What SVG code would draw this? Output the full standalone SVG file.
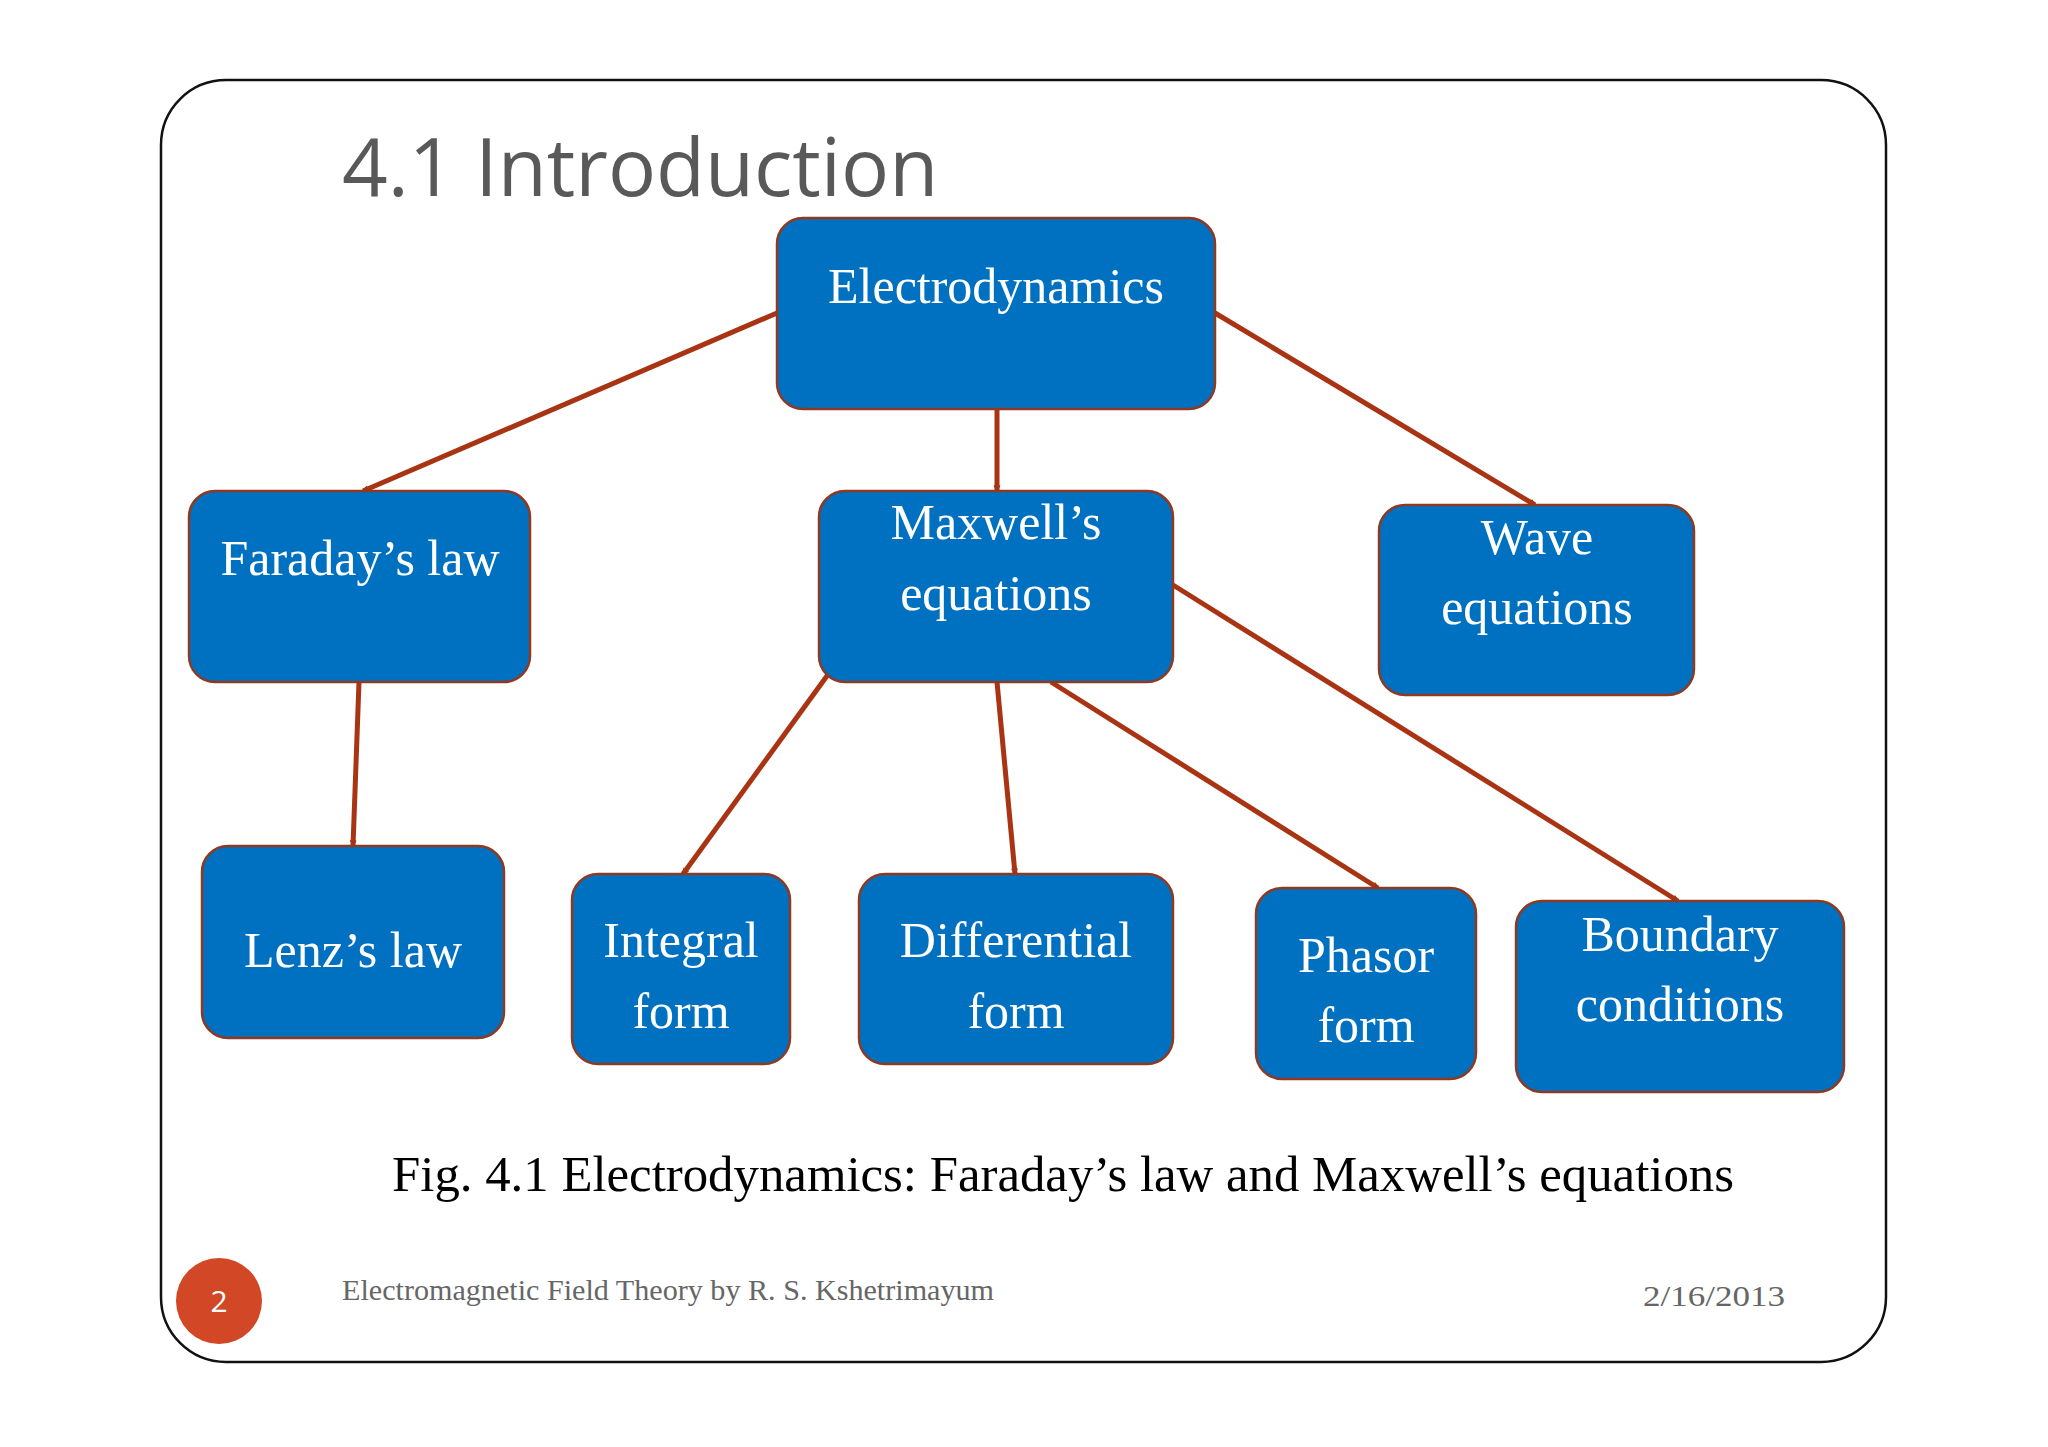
<svg xmlns="http://www.w3.org/2000/svg" width="2048" height="1447" viewBox="0 0 2048 1447">
<defs>
<style>
.n{fill:#0070C0;stroke:#8E3A22;stroke-width:2.5}
.t{fill:#fff;font-family:"Liberation Serif",serif;font-size:50px;text-anchor:middle}
.c{stroke:#A93413;stroke-width:5;fill:none}
</style>
<marker id="a" viewBox="0 0 20 20" refX="18" refY="10" markerWidth="7" markerHeight="7" markerUnits="userSpaceOnUse" orient="auto" style="overflow:visible">
<path d="M2,2 L18,10 L2,18" fill="none" stroke="#A93413" stroke-width="4" stroke-linejoin="miter"/>
</marker>
</defs>
<rect width="2048" height="1447" fill="#fff"/>
<rect x="161" y="80" width="1725" height="1282" rx="65" fill="#fff" stroke="#111" stroke-width="2.5"/>
<text x="342" y="196" font-family="'Open Sans',sans-serif" font-size="80" fill="#595959">4.1 Introduction</text>
<g id="connectors">
<line class="c" x1="777" y1="313" x2="363" y2="491" marker-end="url(#a)"/>
<line class="c" x1="997" y1="409" x2="997" y2="491" marker-end="url(#a)"/>
<line class="c" x1="1215" y1="313" x2="1535" y2="505" marker-end="url(#a)"/>
<line class="c" x1="359" y1="682" x2="353" y2="846" marker-end="url(#a)"/>
<line class="c" x1="832" y1="669" x2="683" y2="874" marker-end="url(#a)"/>
<line class="c" x1="997" y1="682" x2="1015" y2="874" marker-end="url(#a)"/>
<line class="c" x1="1051" y1="682" x2="1378" y2="888" marker-end="url(#a)"/>
<line class="c" x1="1173" y1="585" x2="1678" y2="901" marker-end="url(#a)"/>
</g>
<g id="electrodynamics"><rect class="n" x="777" y="218" width="438" height="191" rx="26"/><text class="t" x="996" y="303">Electrodynamics</text></g>
<g id="faraday"><rect class="n" x="189" y="491" width="341" height="191" rx="26"/><text class="t" x="360" y="575">Faraday’s law</text></g>
<g id="maxwell"><rect class="n" x="819" y="491" width="354" height="191" rx="26"/><text class="t" x="996" y="539">Maxwell’s</text><text class="t" x="996" y="610">equations</text></g>
<g id="wave"><rect class="n" x="1379" y="505" width="315" height="190" rx="26"/><text class="t" x="1537" y="554">Wave</text><text class="t" x="1537" y="624">equations</text></g>
<g id="lenz"><rect class="n" x="202" y="846" width="302" height="192" rx="26"/><text class="t" x="353" y="967">Lenz’s law</text></g>
<g id="integral"><rect class="n" x="572" y="874" width="218" height="190" rx="26"/><text class="t" x="681" y="957">Integral</text><text class="t" x="681" y="1028">form</text></g>
<g id="differential"><rect class="n" x="859" y="874" width="314" height="190" rx="26"/><text class="t" x="1016" y="957">Differential</text><text class="t" x="1016" y="1028">form</text></g>
<g id="phasor"><rect class="n" x="1256" y="888" width="220" height="191" rx="26"/><text class="t" x="1366" y="972">Phasor</text><text class="t" x="1366" y="1042">form</text></g>
<g id="boundary"><rect class="n" x="1516" y="901" width="328" height="191" rx="26"/><text class="t" x="1680" y="951">Boundary</text><text class="t" x="1680" y="1021">conditions</text></g>
<text x="392" y="1191" font-family="'Liberation Serif',serif" font-size="50" fill="#000" textLength="1342" lengthAdjust="spacingAndGlyphs">Fig. 4.1 Electrodynamics: Faraday’s law and Maxwell’s equations</text>
<circle cx="219" cy="1301" r="43" fill="#D24726"/>
<text x="219" y="1312" font-family="'Open Sans',sans-serif" font-size="30" fill="#fff" text-anchor="middle">2</text>
<text x="342" y="1300" font-family="'Liberation Serif',serif" font-size="29" fill="#666" textLength="652" lengthAdjust="spacingAndGlyphs">Electromagnetic Field Theory by R. S. Kshetrimayum</text>
<text x="1643" y="1306" font-family="'Liberation Serif',serif" font-size="29" fill="#666" textLength="142" lengthAdjust="spacingAndGlyphs">2/16/2013</text>
</svg>
